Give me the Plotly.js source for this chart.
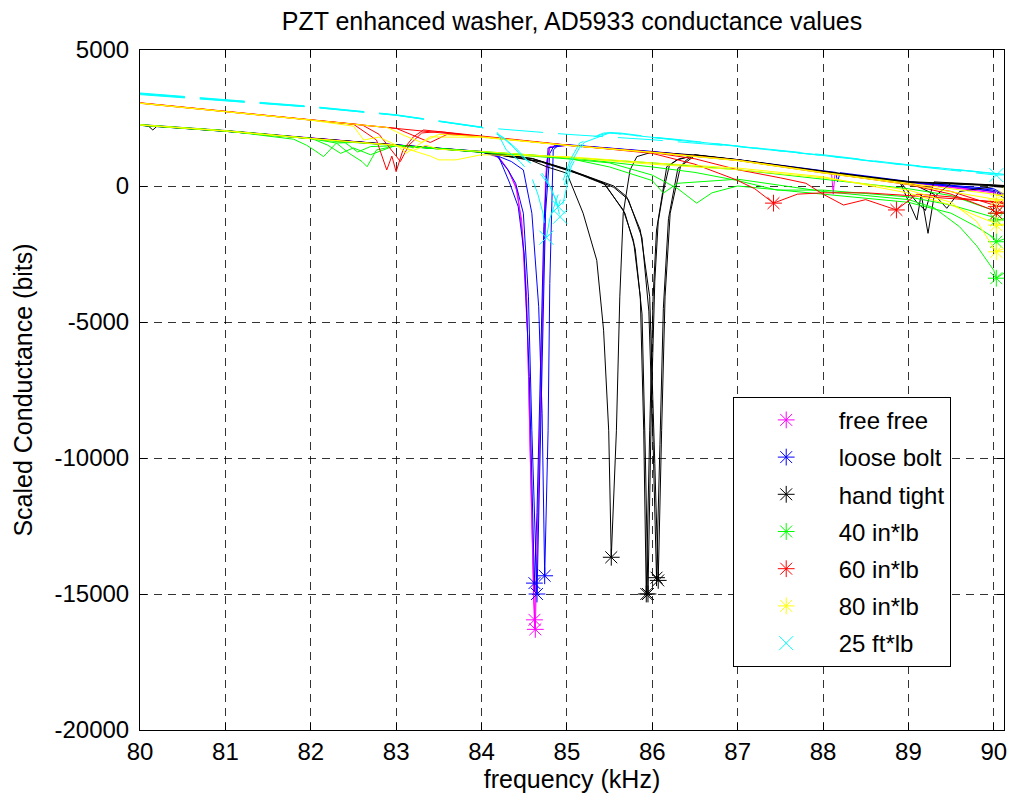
<!DOCTYPE html>
<html>
<head>
<meta charset="utf-8">
<script src="https://cdn.plot.ly/plotly-3.0.1.min.js"></script>
<style>html,body{margin:0;padding:0;background:#fff;}#chart{width:1012px;height:799px;}</style>
</head>
<body>
<div id="chart"></div>
<script>
// ---------- data (frequency in kHz, scaled conductance in bits) ----------
// free free
const freeFree1X = [80, 80.5, 81, 81.5, 82, 82.5, 83, 83.5, 84, 84.2, 84.3, 84.4, 84.47, 84.53, 84.57, 84.61, 84.63, 84.66, 84.69, 84.72, 84.76, 84.8, 85, 85.5, 86, 86.5, 87, 87.5, 88, 88.1, 88.12, 88.14, 88.5, 89, 89.5, 90, 90.12];
const freeFree1Y = [2240, 2140, 2030, 1890, 1760, 1630, 1510, 1390, 1270, 1080, 650, 0, -1250, -4100, -9800, -15100, -16300, -12000, -8000, -4000, 850, 1450, 1500, 1390, 1250, 1110, 950, 750, 520, 480, -300, 470, 330, 130, -60, -250, -350];
const freeFree2X = [80, 81, 82, 83, 84, 84.2, 84.32, 84.42, 84.48, 84.54, 84.58, 84.62, 84.65, 84.68, 84.71, 84.75, 84.8, 85, 86, 87, 88, 89, 90, 90.12];
const freeFree2Y = [2260, 2040, 1770, 1500, 1260, 1050, 550, -200, -1800, -5500, -11000, -15950, -13500, -9500, -4500, 300, 1420, 1490, 1240, 940, 500, 120, -200, -300];
// loose bolt
const looseBolt1X = [80, 81, 82, 83, 84, 84.18, 84.31, 84.4, 84.49, 84.55, 84.59, 84.65, 84.68, 84.71, 84.75, 84.8, 84.85, 85, 86, 87, 88, 88.15, 88.17, 88.2, 89, 89.5, 90, 90.12];
const looseBolt1Y = [2250, 2030, 1750, 1510, 1270, 1100, 590, 100, -1000, -4075, -9000, -15000, -11000, -6000, -1000, 1200, 1480, 1520, 1270, 970, 540, 500, 150, 490, 170, 20, -200, -440];
const looseBolt2X = [80, 81, 82, 83, 84, 84.2, 84.35, 84.49, 84.59, 84.67, 84.71, 84.74, 84.78, 84.8, 84.84, 84.9, 85, 86, 87, 88, 89, 90, 90.12];
const looseBolt2Y = [2240, 2020, 1760, 1500, 1260, 1090, 900, 590, -1000, -4440, -8370, -14330, -9000, -3580, 1325, 1500, 1510, 1260, 960, 530, 150, -100, -300];
const looseBolt3X = [80, 81, 82, 83, 84, 84.2, 84.33, 84.43, 84.5, 84.56, 84.6, 84.62, 84.65, 84.69, 84.73, 84.78, 85, 86, 87, 88, 89, 90, 90.12];
const looseBolt3Y = [2230, 2010, 1750, 1500, 1250, 1080, 110, -760, -2500, -7000, -12500, -14600, -12000, -7000, -1500, 1400, 1500, 1250, 950, 520, 130, -150, -350];
// hand tight
const handTight1X = [80, 80.1, 80.15, 80.2, 81, 82, 83, 84, 84.5, 84.76, 85, 85.19, 85.35, 85.43, 85.49, 85.52, 85.58, 85.62, 85.66, 85.74, 85.82, 86, 86.5, 87, 88, 88.9, 89.1, 89.15, 89.23, 89.3, 89.5, 90, 90.12];
const handTight1Y = [2250, 2200, 2060, 2200, 2030, 1750, 1500, 1250, 1050, 710, 470, -1000, -2730, -5300, -9000, -13650, -9000, -4075, -1000, 590, 1080, 1250, 1140, 960, 520, 150, -1250, -300, -1740, -400, 100, 30, 0];
const handTight2X = [80, 81, 82, 83, 84, 84.6, 85.04, 85.43, 85.66, 85.78, 85.86, 85.9, 85.93, 85.97, 86.01, 86.05, 86.11, 86.17, 86.29, 86.5, 87, 88, 89, 89.3, 89.45, 89.6, 90, 90.12];
const handTight2Y = [2240, 2020, 1750, 1500, 1250, 1000, 590, 110, -880, -2000, -4075, -9000, -15000, -9000, -4075, -1620, -390, 710, 960, 1130, 950, 520, 150, -300, -820, -200, -20, -50];
const handTight3X = [80, 81, 82, 83, 84, 84.6, 85.04, 85.45, 85.68, 85.8, 85.88, 85.92, 85.95, 85.99, 86.03, 86.07, 86.13, 86.2, 86.3, 86.5, 87, 88, 89, 90, 90.12];
const handTight3Y = [2250, 2030, 1760, 1510, 1260, 1010, 560, 50, -1000, -2300, -4700, -10000, -15000, -8000, -3500, -1300, -200, 750, 980, 1140, 960, 530, 160, 30, 0];
const handTight4X = [80, 81, 82, 83, 84, 84.7, 85.2, 85.55, 85.7, 85.86, 85.97, 86.03, 86.07, 86.11, 86.15, 86.21, 86.33, 86.4, 86.5, 87, 88, 88.9, 89.1, 89.2, 89.3, 90, 90.12];
const handTight4Y = [2230, 2010, 1740, 1490, 1240, 900, 400, 0, -390, -1620, -4075, -10200, -14500, -9000, -4075, -1000, 710, 960, 1150, 970, 540, 170, -600, -900, 150, 50, 20];
const handTight5X = [80, 81, 82, 83, 84, 84.7, 85.2, 85.55, 85.72, 85.88, 85.96, 86.01, 86.05, 86.09, 86.13, 86.19, 86.3, 86.5, 87, 88, 89, 90, 90.12];
const handTight5Y = [2240, 2020, 1750, 1500, 1250, 880, 380, -50, -500, -1900, -4600, -9500, -14400, -9500, -4500, -1200, 650, 1120, 950, 510, 140, 10, -10];
// 40 in*lb
const inLb40a_X = [80, 81, 81.8, 81.95, 82.05, 82.15, 82.3, 82.5, 83, 84, 84.5, 85, 85.5, 86, 86.13, 86.3, 87, 88, 88.5, 89, 89.3, 89.6, 89.8, 90, 90.03, 90.12];
const inLb40a_Y = [2250, 2030, 1720, 1500, 1300, 1080, 1580, 1600, 1490, 1260, 1150, 1030, 700, 200, -260, 100, 250, -200, -350, -500, -800, -1500, -2200, -3100, -3390, -3200];
const inLb40b_X = [80, 81, 82, 82.3, 82.45, 82.6, 82.66, 82.77, 83, 84, 85, 85.5, 86, 86.3, 86.52, 86.7, 87, 87.5, 88, 89, 89.5, 89.8, 90, 90.03, 90.12];
const inLb40b_Y = [2240, 2020, 1740, 1580, 1200, 900, 710, 1325, 1480, 1250, 1000, 850, 400, -100, -630, -250, 0, -150, -300, -600, -1000, -1500, -1900, -2050, -1950];
const inLb40c_X = [80, 81, 82, 82.2, 82.35, 82.5, 82.7, 83, 84, 85, 86, 86.5, 87, 87.46, 88, 89, 89.5, 90, 90.03, 90.12];
const inLb40c_Y = [2260, 2040, 1760, 1500, 1200, 1400, 1150, 1500, 1270, 1050, 700, 500, 200, -150, -150, -400, -700, -1150, -1250, -1200];
const inLb40d_X = [80, 81, 82, 82.4, 82.55, 82.7, 83, 84, 85, 86, 87, 88, 89, 89.5, 90, 90.03, 90.12];
const inLb40d_Y = [2230, 2010, 1740, 1600, 1250, 1450, 1480, 1250, 1050, 850, 600, 250, -100, -350, -900, -1000, -1000];
// 60 in*lb
const inLb60a_X = [80, 81, 82, 82.5, 82.77, 82.85, 82.89, 82.95, 83.0, 83.08, 83.2, 83.32, 83.5, 84, 85, 86, 86.5, 86.99, 87.2, 87.42, 87.7, 88, 88.5, 89, 89.5, 90, 90.12];
const inLb60a_Y = [3050, 2740, 2430, 2270, 1690, 960, 590, 1100, 525, 1325, 1800, 2060, 2000, 1820, 1510, 1200, 800, 220, -100, -630, -300, -250, -250, -350, -450, -550, -600];
const inLb60b_X = [80, 81, 82, 82.6, 82.8, 82.95, 83.05, 83.15, 83.3, 83.5, 84, 85, 86, 86.5, 87, 87.5, 87.8, 88, 88.24, 88.5, 88.86, 89.1, 89.5, 90, 90.12];
const inLb60b_Y = [3060, 2750, 2440, 2250, 1900, 1300, 900, 1500, 1950, 2000, 1810, 1500, 1230, 1000, 600, 300, 100, -300, -700, -500, -880, -300, -400, -600, -650];
const inLb60c_X = [80, 81, 82, 83, 83.3, 83.5, 84, 85, 86, 87, 88, 89, 89.5, 90, 90.03, 90.12];
const inLb60c_Y = [3040, 2730, 2420, 2110, 2030, 1950, 1800, 1500, 1240, 940, 480, 80, -200, -700, -760, -700];
const inLb60d_X = [80, 81, 82, 83, 83.4, 83.6, 84, 85, 86, 87, 88, 89, 89.5, 90, 90.03, 90.12];
const inLb60d_Y = [3050, 2740, 2430, 2120, 1600, 1900, 1810, 1500, 1250, 950, 500, 50, -300, -900, -1000, -950];
// 80 in*lb
const inLb80a_X = [80, 81, 82, 82.5, 82.62, 82.8, 83, 83.12, 83.3, 83.4, 83.5, 84, 85, 86, 87, 88, 89, 89.5, 90, 90.03, 90.12];
const inLb80a_Y = [3040, 2730, 2420, 2200, 1690, 1800, 1500, 1210, 1600, 1815, 1800, 1790, 1490, 1230, 930, 480, 60, -200, -480, -515, -500];
const inLb80b_X = [80, 81, 82, 83, 83.4, 83.5, 83.7, 84, 85, 86, 87, 88, 89, 89.5, 89.8, 90, 90.03, 90.12];
const inLb80b_Y = [2240, 2020, 1740, 1490, 1100, 960, 960, 1150, 1080, 850, 660, 340, -260, -700, -1100, -1350, -1440, -1400];
const inLb80c_X = [80, 81, 82, 83, 83.2, 83.35, 83.5, 84, 85, 86, 87, 88, 89, 89.5, 89.8, 89.95, 90.03, 90.12];
const inLb80c_Y = [2250, 2030, 1750, 1500, 1300, 1500, 1350, 1270, 1050, 800, 600, 300, -150, -600, -1300, -2000, -2420, -2300];
const inLb80d_X = [80, 81, 82, 82.9, 83.1, 83.3, 83.5, 84, 85, 86, 87, 88, 89, 90, 90.12];
const inLb80d_Y = [3050, 2740, 2430, 2150, 1850, 1600, 1900, 1810, 1500, 1240, 950, 500, 100, -300, -350];
// 25 ft*lb
const ftLb25a_X = [80, 81, 82, 83, 84, 84.18, 84.29, 84.45, 84.57, 84.66, 84.72, 84.76, 84.8, 84.9, 85.04, 85.15, 85.43, 85.62, 86, 86.36, 87, 88, 89, 90, 90.12];
const ftLb25a_Y = [3400, 3170, 2920, 2610, 2160, 2000, 1325, 900, 470, -300, -1000, -1900, -1200, -300, 960, 1580, 1950, 1950, 1800, 1690, 1470, 1140, 770, 470, 420];
const ftLb25b_X = [80, 81, 82, 83, 84, 84.2, 84.35, 84.5, 84.65, 84.75, 84.83, 84.9, 84.96, 85.04, 85.2, 85.5, 86, 87, 88, 89, 90, 90.12];
const ftLb25b_Y = [3380, 3150, 2900, 2600, 2150, 1900, 1500, 1000, 700, 300, -200, -760, -100, 800, 1700, 1970, 1780, 1460, 1130, 760, 460, 420];
const ftLb25c_X = [80, 81, 82, 83, 84, 84.25, 84.4, 84.55, 84.7, 84.8, 84.87, 84.92, 84.97, 85.05, 85.2, 85.5, 86, 87, 88, 89, 90, 90.12];
const ftLb25c_Y = [3420, 3180, 2930, 2620, 2170, 1800, 1400, 900, 400, 0, -500, -1130, -400, 700, 1600, 1950, 1790, 1480, 1150, 780, 480, 430];
const ftLb25d_X = [80, 81, 82, 83, 84, 85, 86, 87, 88, 89, 90, 90.03, 90.12];
const ftLb25d_Y = [3360, 3140, 2900, 2600, 2150, 1900, 1700, 1450, 1120, 750, 420, 400, 410];

const legendNames = ['free free', 'loose bolt', 'hand tight', '40 in*lb', '60 in*lb', '80 in*lb', '25 ft*lb'];
const xTicks = [80, 81, 82, 83, 84, 85, 86, 87, 88, 89, 90];
const yTicks = [-20000, -15000, -10000, -5000, 0, 5000];

// ---------- styling ----------
const FONT = 'Liberation Sans, Arial, Helvetica, sans-serif';
const groups = [
  {name: legendNames[0], color: '#ff00ff', symbol: 'asterisk-open', dash: 'solid', runs: [[freeFree1X, freeFree1Y], [freeFree2X, freeFree2Y]]},
  {name: legendNames[1], color: '#0000ff', symbol: 'asterisk-open', dash: 'solid', runs: [[looseBolt1X, looseBolt1Y], [looseBolt2X, looseBolt2Y], [looseBolt3X, looseBolt3Y]]},
  {name: legendNames[2], color: '#000000', symbol: 'asterisk-open', dash: 'solid', runs: [[handTight1X, handTight1Y], [handTight2X, handTight2Y], [handTight3X, handTight3Y], [handTight4X, handTight4Y], [handTight5X, handTight5Y]]},
  {name: legendNames[3], color: '#00ff00', symbol: 'asterisk-open', dash: 'solid', runs: [[inLb40a_X, inLb40a_Y], [inLb40b_X, inLb40b_Y], [inLb40c_X, inLb40c_Y], [inLb40d_X, inLb40d_Y]]},
  {name: legendNames[4], color: '#ff0000', symbol: 'asterisk-open', dash: 'solid', runs: [[inLb60a_X, inLb60a_Y], [inLb60b_X, inLb60b_Y], [inLb60c_X, inLb60c_Y], [inLb60d_X, inLb60d_Y]]},
  {name: legendNames[5], color: '#ffff00', symbol: 'asterisk-open', dash: 'solid', runs: [[inLb80a_X, inLb80a_Y], [inLb80b_X, inLb80b_Y], [inLb80c_X, inLb80c_Y], [inLb80d_X, inLb80d_Y]]},
  {name: legendNames[6], color: '#00ffff', symbol: 'x-thin-open', dash: '45px,15px', runs: [[ftLb25a_X, ftLb25a_Y], [ftLb25b_X, ftLb25b_Y], [ftLb25c_X, ftLb25c_Y], [ftLb25d_X, ftLb25d_Y]]}
];

const traces = [];
groups.forEach(g => {
  const mx = [], my = [];
  g.runs.forEach(r => {
    traces.push({x: r[0], y: r[1], type: 'scatter', mode: 'lines', legendgroup: g.name, showlegend: false,
      hoverinfo: 'skip', line: {color: g.color, width: 1, dash: g.dash}});
    let k = 0;
    r[1].forEach((v, i) => { if (v < r[1][k]) k = i; });
    mx.push(r[0][k]); my.push(r[1][k]);
  });
  traces.push({x: mx, y: my, type: 'scatter', mode: 'markers', name: g.name, legendgroup: g.name, showlegend: true,
    marker: {symbol: g.symbol, size: 14, color: g.color, line: {color: g.color, width: 1}}});
});

const axisCommon = {
  showline: true, linecolor: '#000', linewidth: 1, mirror: 'ticks',
  ticks: 'inside', ticklen: 7, tickcolor: '#000', tickwidth: 1,
  showgrid: true, gridcolor: 'rgba(0,0,0,0.8)', gridwidth: 1, griddash: '8px,6px',
  zeroline: false, tickfont: {family: FONT, size: 24, color: '#000'}
};

const layout = {
  width: 1012, height: 799,
  margin: {l: 140, r: 8, t: 50, b: 69, pad: 0},
  paper_bgcolor: '#fff', plot_bgcolor: '#fff',
  font: {family: FONT, color: '#000'},
  title: {text: 'PZT enhanced washer, AD5933 conductance values', font: {family: FONT, size: 25, color: '#000'},
    x: 0.5, xref: 'paper', y: 0.974, yref: 'container', yanchor: 'middle'},
  xaxis: Object.assign({}, axisCommon, {range: [80, 90.12], tickvals: xTicks, ticktext: xTicks.map(String),
    title: {text: 'frequency (kHz)', font: {family: FONT, size: 25, color: '#000'}, standoff: 6}}),
  yaxis: Object.assign({}, axisCommon, {range: [-20000, 5000], tickvals: yTicks, ticktext: yTicks.map(String),
    ticklabelstandoff: 5,
    title: {text: 'Scaled Conductance (bits)', font: {family: FONT, size: 25, color: '#000'}, standoff: 14}}),
  showlegend: true,
  legend: {x: 0.686, y: 0.49, xanchor: 'left', yanchor: 'top', bgcolor: '#fff', bordercolor: '#000', borderwidth: 1,
    font: {family: FONT, size: 24, color: '#000'}, traceorder: 'grouped', tracegroupgap: 3, itemwidth: 95}
};

Plotly.newPlot('chart', traces, layout, {staticPlot: true, displayModeBar: false});
</script>
</body>
</html>
